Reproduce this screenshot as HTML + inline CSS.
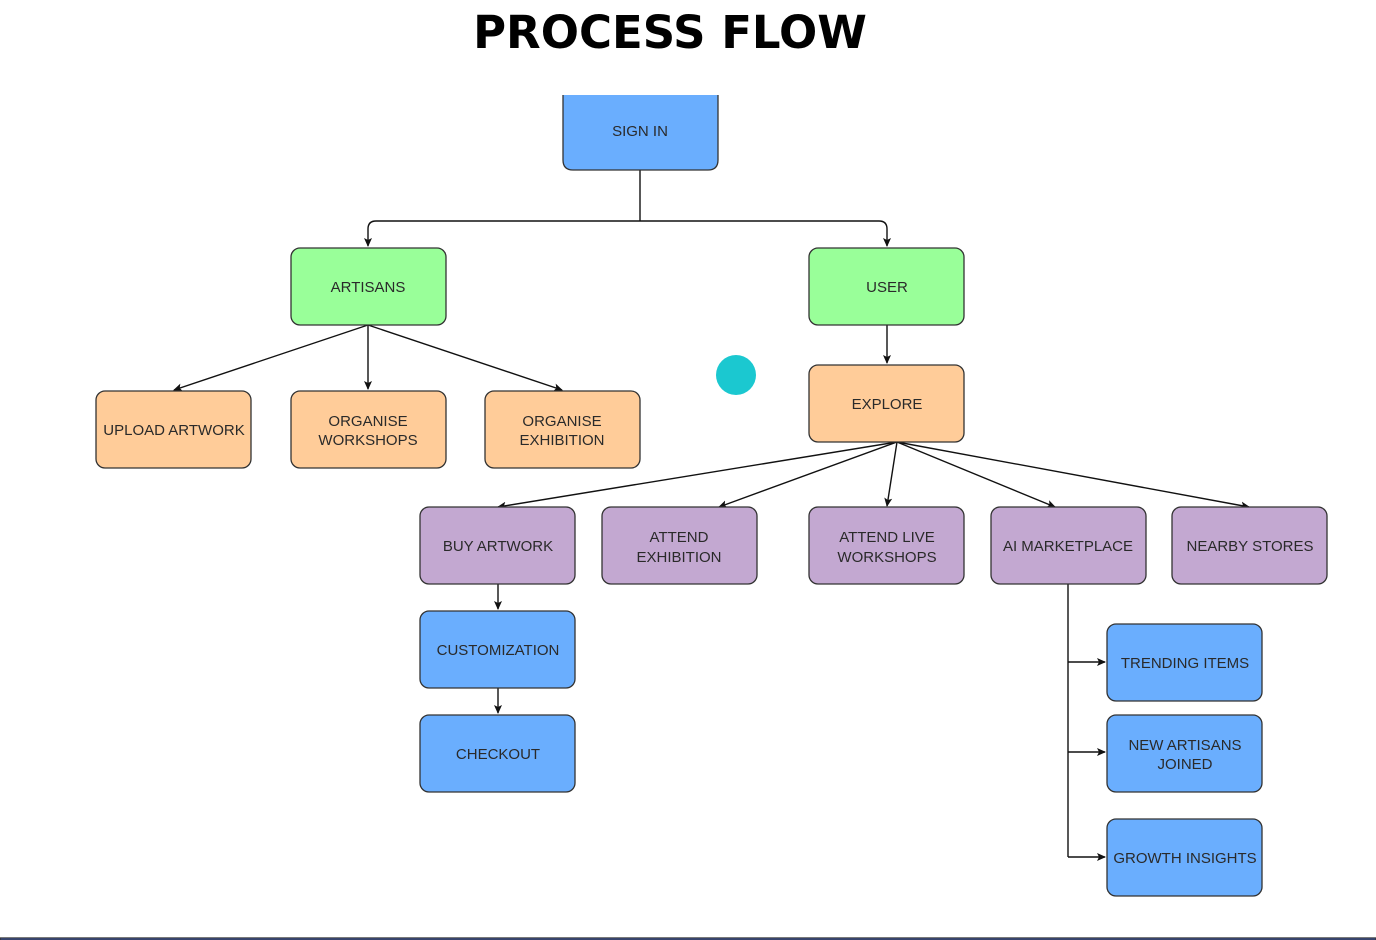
<!DOCTYPE html>
<html><head><style>
html,body{margin:0;padding:0;background:#fff;width:1376px;height:940px;overflow:hidden}
svg{display:block}
text{font-family:"Liberation Sans",Arial,sans-serif;font-size:15px;fill:#2a2a2a;text-anchor:middle}
.t{font-family:"DejaVu Sans","Liberation Sans",sans-serif;font-weight:bold;font-size:45px;fill:#000}
rect{stroke:#333;stroke-width:1.3}
.l{stroke:#111;stroke-width:1.4;fill:none}
</style></head><body>
<svg width="1376" height="940" viewBox="0 0 1376 940">
<defs><marker id="a" markerWidth="10" markerHeight="10" refX="8" refY="5" orient="auto" markerUnits="userSpaceOnUse"><path d="M0,1 L9,5 L0,9 L2,5z" fill="#111"/></marker></defs>
<text class="t" x="670" y="48">PROCESS FLOW</text>

<g class="l">
<path d="M640,170 V221"/>
<path d="M640,221 H376 Q368,221 368,229 V246" marker-end="url(#a)"/>
<path d="M640,221 H879 Q887,221 887,229 V246" marker-end="url(#a)"/>
<path d="M368,325 L174,390" marker-end="url(#a)"/>
<path d="M368,325 V389" marker-end="url(#a)"/>
<path d="M368,325 L562,390" marker-end="url(#a)"/>
<path d="M887,325 V363" marker-end="url(#a)"/>
<path d="M897,442 L498,507" marker-end="url(#a)"/>
<path d="M897,442 L719,507" marker-end="url(#a)"/>
<path d="M897,442 L887,506" marker-end="url(#a)"/>
<path d="M897,442 L1055,507" marker-end="url(#a)"/>
<path d="M897,442 L1249,507" marker-end="url(#a)"/>
<path d="M498,584 V609" marker-end="url(#a)"/>
<path d="M498,688 V713" marker-end="url(#a)"/>
<path d="M1068,584 V857"/>
<path d="M1068,662 H1105" marker-end="url(#a)"/>
<path d="M1068,752 H1105" marker-end="url(#a)"/>
<path d="M1068,857 H1105" marker-end="url(#a)"/>
</g>

<path d="M563,95 V160 Q563,170 573,170 H708 Q718,170 718,160 V95" fill="#6aaefe" stroke="#333" stroke-width="1.3"/>
<text x="640" y="136">SIGN IN</text>

<rect x="291" y="248" width="155" height="77" rx="9" fill="#99ff99"/><text x="368" y="292">ARTISANS</text>
<rect x="809" y="248" width="155" height="77" rx="9" fill="#99ff99"/><text x="887" y="292">USER</text>

<rect x="96" y="391" width="155" height="77" rx="9" fill="#ffcc99"/><text x="174" y="435">UPLOAD ARTWORK</text>
<rect x="291" y="391" width="155" height="77" rx="9" fill="#ffcc99"/><text x="368" y="426">ORGANISE</text><text x="368" y="445">WORKSHOPS</text>
<rect x="485" y="391" width="155" height="77" rx="9" fill="#ffcc99"/><text x="562" y="426">ORGANISE</text><text x="562" y="445">EXHIBITION</text>
<rect x="809" y="365" width="155" height="77" rx="9" fill="#ffcc99"/><text x="887" y="409">EXPLORE</text>

<circle cx="736" cy="375" r="20" fill="#1bc8d0"/>

<rect x="420" y="507" width="155" height="77" rx="9" fill="#c3a8d1"/><text x="498" y="551">BUY ARTWORK</text>
<rect x="602" y="507" width="155" height="77" rx="9" fill="#c3a8d1"/><text x="679" y="542">ATTEND</text><text x="679" y="562">EXHIBITION</text>
<rect x="809" y="507" width="155" height="77" rx="9" fill="#c3a8d1"/><text x="887" y="542">ATTEND LIVE</text><text x="887" y="562">WORKSHOPS</text>
<rect x="991" y="507" width="155" height="77" rx="9" fill="#c3a8d1"/><text x="1068" y="551">AI MARKETPLACE</text>
<rect x="1172" y="507" width="155" height="77" rx="9" fill="#c3a8d1"/><text x="1250" y="551">NEARBY STORES</text>

<rect x="420" y="611" width="155" height="77" rx="9" fill="#6aaefe"/><text x="498" y="655">CUSTOMIZATION</text>
<rect x="420" y="715" width="155" height="77" rx="9" fill="#6aaefe"/><text x="498" y="759">CHECKOUT</text>

<rect x="1107" y="624" width="155" height="77" rx="9" fill="#6aaefe"/><text x="1185" y="668">TRENDING ITEMS</text>
<rect x="1107" y="715" width="155" height="77" rx="9" fill="#6aaefe"/><text x="1185" y="750">NEW ARTISANS</text><text x="1185" y="769">JOINED</text>
<rect x="1107" y="819" width="155" height="77" rx="9" fill="#6aaefe"/><text x="1185" y="863">GROWTH INSIGHTS</text>

<rect x="0" y="938" width="1376" height="2" fill="#4466d8" stroke="none"/>
</svg>
</body></html>
